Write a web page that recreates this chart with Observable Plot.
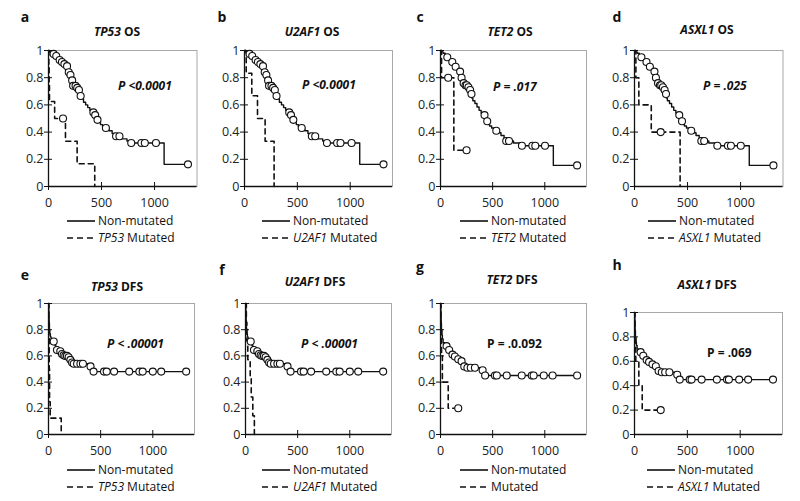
<!DOCTYPE html>
<html><head><meta charset="utf-8">
<script src="https://cdn.jsdelivr.net/npm/d3@7"></script>
<script src="https://cdn.jsdelivr.net/npm/@observablehq/plot@0.6"></script>
<style>
body{margin:0;background:#fff;}
#root{position:relative;width:800px;height:501px;overflow:hidden;font-family:"Open Sans",sans-serif;color:#111;background:#fff;}
.t{position:absolute;white-space:nowrap;line-height:1;}
</style></head><body><div id="root"></div>
<script>
// ---------- DATA ----------
const letters = ["a","b","c","d","e","f","g","h"];
const genes = ["TP53","U2AF1","TET2","ASXL1","TP53","U2AF1","TET2","ASXL1"];
const endpoints = ["OS","OS","OS","OS","DFS","DFS","DFS","DFS"];
const pValues = ["P <0.0001","P <0.0001","P = .017","P = .025","P < .00001","P < .00001","P = .0.092","P = .069"];
const pItalic = [true,true,true,true,true,true,false,false];
const xTicks = [0,500,1000];
const yTicks = [0,0.2,0.4,0.6,0.8,1];

// Non-mutated OS (panels a, b)
const osNonMutAB = [[0,1],[10,0.99],[25,0.98],[40,0.975],[60,0.96],[85,0.945],[100,0.93],[120,0.915],[145,0.9],[165,0.885],[180,0.86],[190,0.84],[200,0.82],[210,0.8],[218,0.78],[225,0.76],[232,0.74],[265,0.725],[280,0.71],[290,0.69],[300,0.665],[310,0.645],[330,0.62],[350,0.6],[370,0.58],[390,0.56],[410,0.545],[430,0.525],[445,0.505],[455,0.49],[470,0.475],[490,0.455],[510,0.44],[530,0.43],[570,0.41],[600,0.39],[630,0.37],[690,0.35],[740,0.335],[770,0.32],[1090,0.163],[1315,0.163]];
const osCensAB = [[48,0.975],[73,0.96],[105,0.93],[127,0.915],[150,0.9],[175,0.885],[191,0.84],[207,0.82],[223,0.78],[232,0.74],[255,0.74],[271,0.725],[287,0.71],[303,0.665],[423,0.545],[440,0.525],[462,0.49],[541,0.43],[637,0.37],[669,0.37],[780,0.32],[876,0.32],[908,0.32],[1013,0.32],[1315,0.163]];
// Non-mutated OS (panels c, d)
const osNonMutCD = [[0,1],[10,0.99],[25,0.98],[45,0.965],[60,0.95],[85,0.935],[100,0.915],[120,0.9],[145,0.88],[165,0.865],[180,0.845],[190,0.825],[200,0.8],[210,0.78],[218,0.76],[225,0.745],[260,0.73],[275,0.71],[290,0.68],[300,0.65],[310,0.63],[330,0.61],[350,0.585],[370,0.56],[390,0.54],[410,0.525],[430,0.505],[445,0.48],[455,0.46],[470,0.445],[490,0.43],[515,0.41],[545,0.395],[580,0.375],[610,0.355],[630,0.335],[700,0.32],[760,0.3],[1082,0.155],[1310,0.155]];
const osCensCD = [[65,0.95],[113,0.915],[145,0.88],[188,0.845],[202,0.8],[222,0.76],[240,0.745],[252,0.745],[268,0.73],[284,0.71],[297,0.68],[422,0.525],[448,0.48],[535,0.41],[630,0.335],[657,0.335],[781,0.3],[881,0.3],[909,0.3],[1002,0.3],[1310,0.155]];
// Non-mutated DFS (panels e, f)
const dfsNonMutEF = [[0,1],[2,0.95],[4,0.9],[6,0.85],[9,0.8],[13,0.77],[18,0.745],[25,0.725],[40,0.71],[55,0.7],[62,0.68],[70,0.66],[80,0.645],[100,0.635],[115,0.625],[128,0.615],[140,0.605],[155,0.6],[185,0.59],[195,0.58],[205,0.57],[215,0.56],[225,0.55],[235,0.54],[390,0.52],[425,0.48],[1320,0.48]];
const dfsCensEF = [[50,0.71],[81,0.645],[113,0.635],[129,0.615],[145,0.605],[161,0.6],[177,0.6],[193,0.59],[210,0.57],[226,0.55],[242,0.54],[274,0.54],[306,0.54],[330,0.54],[403,0.52],[432,0.48],[532,0.48],[558,0.48],[629,0.48],[774,0.48],[871,0.48],[903,0.48],[1000,0.48],[1081,0.48],[1320,0.48]];
// Non-mutated DFS (panels g, h)
const dfsNonMutGH = [[0,1],[2,0.95],[4,0.9],[6,0.85],[9,0.8],[13,0.76],[18,0.73],[25,0.7],[40,0.69],[55,0.675],[65,0.66],[75,0.645],[90,0.625],[110,0.61],[130,0.595],[150,0.585],[170,0.575],[190,0.56],[205,0.545],[215,0.53],[225,0.52],[240,0.51],[390,0.49],[420,0.45],[1310,0.45]];
const dfsCensGH = [[58,0.675],[83,0.645],[115,0.61],[138,0.595],[170,0.575],[202,0.56],[228,0.52],[258,0.51],[290,0.51],[330,0.51],[404,0.49],[428,0.45],[522,0.45],[540,0.45],[635,0.45],[779,0.45],[875,0.45],[893,0.45],[990,0.45],[1075,0.45],[1310,0.45]];

// Mutated curves
const tp53OsMut = [[0,1],[3,0.875],[6,0.75],[9,0.625],[58,0.5],[160,0.333],[270,0.167],[436,0]];
const tp53OsMutCens = [[137,0.5]];
const u2af1OsMut = [[0,1],[16,0.833],[69,0.667],[123,0.5],[195,0.333],[280,0]];
const u2af1OsMutCens = [];
const tet2OsMut = [[0,1],[10,0.8],[128,0.267],[250,0.267]];
const tet2OsMutCens = [[74,0.8],[250,0.267]];
const asxl1OsMut = [[0,1],[13,0.8],[41,0.6],[158,0.4],[430,0]];
const asxl1OsMutCens = [[247,0.4]];
const tp53DfsMut = [[0,1],[4,0.75],[7,0.5],[10,0.25],[16,0.125],[122,0]];
const tp53DfsMutCens = [];
const u2af1DfsMut = [[0,1],[8,0.857],[13,0.714],[22,0.571],[45,0.429],[55,0.286],[70,0.143],[85,0]];
const u2af1DfsMutCens = [];
const tet2DfsMut = [[0,1],[5,0.8],[10,0.6],[18,0.4],[74,0.2],[170,0.2]];
const tet2DfsMutCens = [[170,0.2]];
const asxl1DfsMut = [[0,1],[5,0.8],[12,0.6],[41,0.4],[73,0.2],[248,0.2]];
const asxl1DfsMutCens = [[248,0.2]];

const nonMutCurves = [osNonMutAB,osNonMutAB,osNonMutCD,osNonMutCD,dfsNonMutEF,dfsNonMutEF,dfsNonMutGH,dfsNonMutGH];
const nonMutCens = [osCensAB,osCensAB,osCensCD,osCensCD,dfsCensEF,dfsCensEF,dfsCensGH,dfsCensGH];
const mutCurves = [tp53OsMut,u2af1OsMut,tet2OsMut,asxl1OsMut,tp53DfsMut,u2af1DfsMut,tet2DfsMut,asxl1DfsMut];
const mutCens = [tp53OsMutCens,u2af1OsMutCens,tet2OsMutCens,asxl1OsMutCens,tp53DfsMutCens,u2af1DfsMutCens,tet2DfsMutCens,asxl1DfsMutCens];

// ---------- LAYOUT (pixel positions) ----------
const frames = [ // left, right, top(y=1), bottom(y=0)
  [48,196.5,50,186],[244,392,50,186],[440,586,50,186],[634,782.5,50,186],
  [48,194,303,434],[245,391,303,434],[440,586,303,434],[634,782,312,434]
];
const letterPos = [[25,17],[222,17],[420,17],[617,17],[25,275],[222,270],[420,267],[617,265]];
const titlePos = [[117,32],[312,32],[510,32],[707,30],[117,287],[315,282],[512,280],[707,285]];
const pPos = [[118,86],[302,85],[493,87],[703,86],[107,344],[301,344],[487,344],[707,353]];
const legendPos = [[67,221],[262,221],[460,221],[648,221],[67,470],[262,470],[460,470],[647,470]];

const root = document.getElementById("root");
function addText(html, x, y, style, anchor) {
  const d = document.createElement("div");
  d.className = "t";
  d.innerHTML = html;
  d.style.left = x + "px";
  d.style.top = y + "px";
  d.style.transform = anchor === "middle" ? "translate(-50%,-50%)" : "translate(0,-50%)";
  Object.assign(d.style, style);
  root.appendChild(d);
}
function addLegendLine(x, y, dashed) {
  const ns = "http://www.w3.org/2000/svg";
  const s = document.createElementNS(ns, "svg");
  s.setAttribute("width", 30); s.setAttribute("height", 6);
  s.style.position = "absolute"; s.style.left = x + "px"; s.style.top = (y - 3) + "px";
  const l = document.createElementNS(ns, "line");
  l.setAttribute("x1", 0); l.setAttribute("x2", 28); l.setAttribute("y1", 3); l.setAttribute("y2", 3);
  l.setAttribute("stroke", "#111"); l.setAttribute("stroke-width", 1.6);
  if (dashed) l.setAttribute("stroke-dasharray", "6,4");
  s.appendChild(l);
  root.appendChild(s);
}

const mL = 40, mR = 10, mT = 8, mB = 28;
for (let i = 0; i < 8; i++) {
  const [fl, fr, ft, fb] = frames[i];
  const fw = fr - fl, fh = fb - ft;
  const chart = Plot.plot({
    width: mL + fw + mR,
    height: mT + fh + mB,
    marginLeft: mL, marginRight: mR, marginTop: mT, marginBottom: mB,
    x: {domain: [0, 1400]},
    y: {domain: [0, 1]},
    style: {fontFamily: "Open Sans", fontSize: "12px", background: "transparent", color: "#222", overflow: "visible"},
    marks: [
      Plot.frame({stroke: "#a8a8a8", strokeWidth: 1}),
      Plot.axisY({ticks: yTicks, tickSize: 8, dx: 4, tickPadding: 1, label: null, tickFormat: d => String(d), stroke: "#111", fontSize: 12.5}),
      Plot.axisX({ticks: xTicks, tickSize: 8, dy: -4, tickPadding: 8, label: null, tickFormat: d => String(d), stroke: "#111", fontSize: 12.5}),
      Plot.ruleX([0], {stroke: "#111", strokeWidth: 1.3}),
      Plot.ruleY([0], {stroke: "#111", strokeWidth: 1.3}),
      Plot.line(mutCurves[i], {x: d => d[0], y: d => d[1], curve: "step-after", stroke: "#111", strokeWidth: 1.6, strokeDasharray: "5,4"}),
      Plot.line(nonMutCurves[i], {x: d => d[0], y: d => d[1], curve: "step-after", stroke: "#111", strokeWidth: 1.4}),
      Plot.dot(nonMutCens[i], {x: d => d[0], y: d => d[1], r: 3.5, fill: "white", stroke: "#111", strokeWidth: 1.1}),
      Plot.dot(mutCens[i], {x: d => d[0], y: d => d[1], r: 3.5, fill: "white", stroke: "#111", strokeWidth: 1.1})
    ]
  });
  chart.style.position = "absolute";
  chart.style.left = (fl - mL) + "px";
  chart.style.top = (ft - mT) + "px";
  root.appendChild(chart);

  addText(letters[i], letterPos[i][0], letterPos[i][1], {fontWeight: "bold", fontSize: "14px"}, "middle");
  addText(`<i>${genes[i]}</i> ${endpoints[i]}`, titlePos[i][0], titlePos[i][1], {fontWeight: "bold", fontSize: "12px"}, "middle");
  addText(pValues[i], pPos[i][0], pPos[i][1], {fontWeight: "bold", fontStyle: pItalic[i] ? "italic" : "normal", fontSize: "12px"});
  const [lx, ly] = legendPos[i];
  addLegendLine(lx, ly, false);
  addText("Non-mutated", lx + 31, ly, {fontSize: "12px"});
  addLegendLine(lx, ly + 17, true);
  addText(i === 6 ? "Mutated" : `<i>${genes[i]}</i> Mutated`, lx + 31, ly + 17, {fontSize: "12px"});
}
</script>
</body></html>
